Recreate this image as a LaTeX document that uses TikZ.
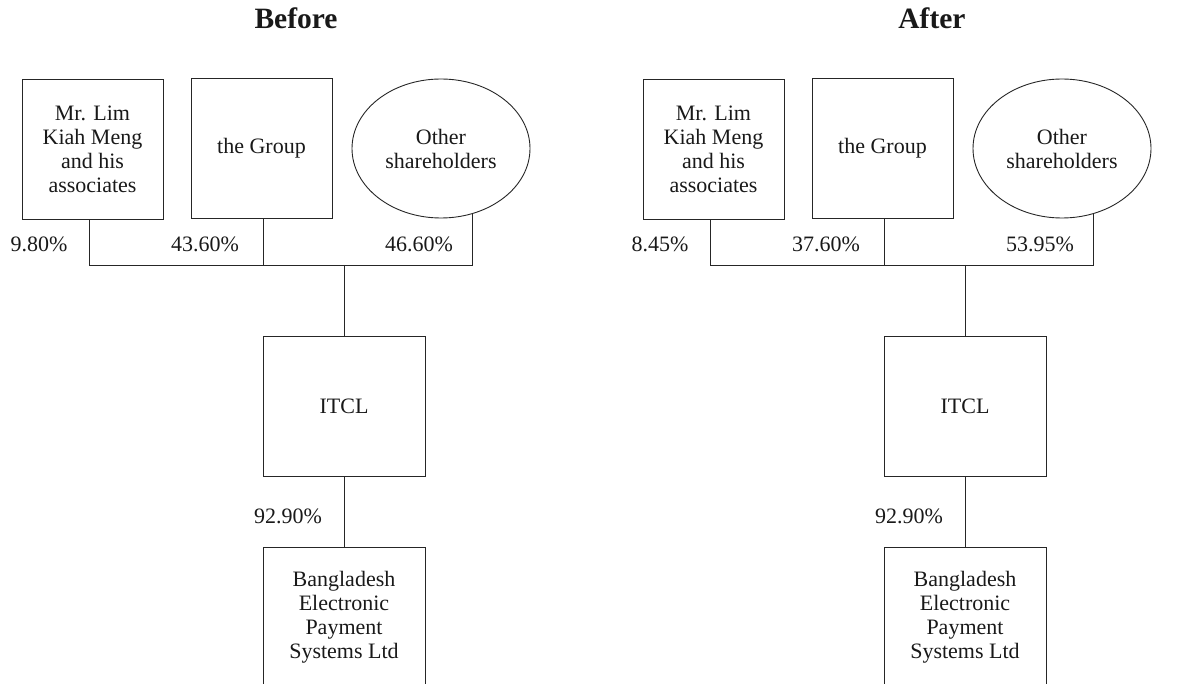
\documentclass[tikz,border=0pt]{standalone}
\usepackage{fontspec}
\setmainfont{Liberation Serif}
\usetikzlibrary{shapes.geometric}

\begin{document}
\begin{tikzpicture}[x=1pt,y=-1pt]
    % Stili
    \tikzstyle{holder}=[rectangle, draw=black!85, line width=0.9pt, minimum width=141pt, minimum height=140pt, inner sep=0pt, align=center, text=black!90, font=\fontsize{22}{24}\selectfont]
    \tikzstyle{company}=[holder, minimum width=162pt]
    \tikzstyle{others}=[ellipse, draw=black!85, line width=0.9pt, minimum width=178pt, minimum height=139pt, inner sep=0pt, align=center, text=black!90, font=\fontsize{22}{24}\selectfont]
    \tikzstyle{pct}=[text=black!90, font=\fontsize{22}{24}\selectfont]
    \tikzstyle{title}=[anchor=base, text=black!90, font=\fontsize{29.5}{32}\selectfont\bfseries]
    \tikzstyle{link}=[draw=black!85, line width=0.9pt]

    \useasboundingbox (0,0) rectangle (1202,684);
    \clip (0,0) rectangle (1202,684);

    % Prima
    \node[title] (titA) at (296,29) {Before};
    \node[holder] (limA) at (92.5,149) {Mr. Lim\\Kiah Meng\\and his\\associates};
    \node[holder] (grpA) at (261.5,148) {the Group};
    \node[others] (othA) at (441,148.5) {Other\\shareholders};
    \node[company] (itclA) at (344,406) {ITCL};
    \node[company] (bepA) at (344,617) {Bangladesh\\Electronic\\Payment\\Systems Ltd};
    \coordinate (busA) at (344,265);

    \node[pct] (pLimA) at (39,244) {9.80\%};
    \node[pct] (pGrpA) at (205,244) {43.60\%};
    \node[pct] (pOthA) at (419,244) {46.60\%};
    \node[pct] (pBepA) at (288,516) {92.90\%};

    \draw[link] ([xshift=-3.5pt]limA.south) |- (busA);
    \draw[link] (othA.-64) |- (busA);
    \draw[link] ([xshift=1.5pt]grpA.south) -- ([xshift=1.5pt]grpA.south |- busA);
    \draw[link] (busA) -- (itclA.north);
    \draw[link] (itclA.south) -- (bepA.north);

    % Dopo
    \node[title] (titB) at (932,29) {After};
    \node[holder] (limB) at (713.5,149) {Mr. Lim\\Kiah Meng\\and his\\associates};
    \node[holder] (grpB) at (882.5,148) {the Group};
    \node[others] (othB) at (1062,148.5) {Other\\shareholders};
    \node[company] (itclB) at (965,406) {ITCL};
    \node[company] (bepB) at (965,617) {Bangladesh\\Electronic\\Payment\\Systems Ltd};
    \coordinate (busB) at (965,265);

    \node[pct] (pLimB) at (660,244) {8.45\%};
    \node[pct] (pGrpB) at (826,244) {37.60\%};
    \node[pct] (pOthB) at (1040,244) {53.95\%};
    \node[pct] (pBepB) at (909,516) {92.90\%};

    \draw[link] ([xshift=-3.5pt]limB.south) |- (busB);
    \draw[link] (othB.-64) |- (busB);
    \draw[link] ([xshift=1.5pt]grpB.south) -- ([xshift=1.5pt]grpB.south |- busB);
    \draw[link] (busB) -- (itclB.north);
    \draw[link] (itclB.south) -- (bepB.north);
\end{tikzpicture}
\end{document}
